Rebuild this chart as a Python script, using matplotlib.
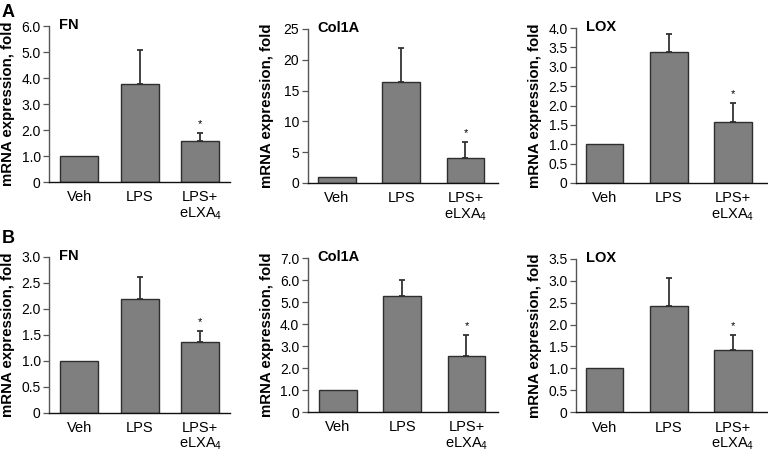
import matplotlib
matplotlib.use("Agg")
import matplotlib.pyplot as plt
import numpy as np

plt.rcParams['font.family'] = ['Liberation Sans', 'DejaVu Sans']
plt.rcParams['mathtext.fontset'] = 'custom'
plt.rcParams['mathtext.rm'] = 'Liberation Sans'

groups = ['Veh', 'LPS', 'LPS+\neLXA$_4$']

# panel A
fn_a = [1.0, 3.77, 1.59]
fn_a_err = [0.0, 1.30, 0.29]
col_a = [1.0, 16.45, 4.07]
col_a_err = [0.0, 5.50, 2.55]
lox_a = [1.0, 3.38, 1.57]
lox_a_err = [0.0, 0.46, 0.50]

# panel B
fn_b = [1.0, 2.20, 1.36]
fn_b_err = [0.0, 0.42, 0.22]
col_b = [1.0, 5.26, 2.55]
col_b_err = [0.0, 0.76, 0.93]
lox_b = [1.02, 2.42, 1.42]
lox_b_err = [0.0, 0.65, 0.35]

W, H = 768, 454
fig = plt.figure(figsize=(W / 100, H / 100), dpi=100)

BAR = '#7f7f7f'
EDGE = '#2e2e2e'


def panel(left, right, top, zero, xlim, width, vals, errs, ymax, step, fmt, title):
    ax = fig.add_axes([left / W, 1 - zero / H, (right - left) / W, (zero - top) / H])
    x = np.arange(len(vals))
    ax.bar(x, vals, width=width, color=BAR, edgecolor=EDGE, linewidth=1.0, zorder=2)
    ax.errorbar(x[1:], vals[1:], yerr=[[0, 0], errs[1:]], fmt='none',
                ecolor='#333333', elinewidth=1.3, capsize=2.5, capthick=1.3, zorder=1)
    ax.annotate('*', (x[2], vals[2] + errs[2]), xytext=(0, 6.5), textcoords='offset points',
                ha='center', va='center', fontsize=8)
    ax.set_xlim(*xlim)
    ax.set_ylim(0, ymax)
    ticks = np.arange(0, ymax + step / 2, step)
    ax.set_yticks(ticks)
    ax.set_yticklabels(['0'] + [fmt.format(t) for t in ticks[1:]], fontsize=10)
    ax.set_xticks(x)
    ax.set_xticklabels(groups, fontsize=10.5, linespacing=1.05)
    ax.tick_params(axis='x', length=0, pad=6)
    ax.tick_params(axis='y', length=4, width=0.9, color='#555555', pad=2)
    for s in ['top', 'right']:
        ax.spines[s].set_visible(False)
    ax.spines['left'].set_color('#555555')
    ax.spines['left'].set_linewidth(1.0)
    ax.spines['bottom'].set_color('#111111')
    ax.spines['bottom'].set_linewidth(1.0)
    ax.set_ylabel('mRNA expression, fold', fontsize=10.8, fontweight='bold')
    ax.yaxis.set_label_coords(-34 / (right - left), 0.5)
    fig.text((left + 10) / W, 1 - (top - 1) / H, title, fontsize=10.5, fontweight='bold',
             ha='left', va='center')
    return ax


# row A
panel(49, 230, 26, 182, (-0.5, 2.49), 0.63, fn_a, fn_a_err, 6.0, 1.0, '{:.1f}', 'FN')
panel(307.7, 498, 29, 183, (-0.456, 2.506), 0.59, col_a, col_a_err, 25, 5, '{:.0f}', 'Col1A')
panel(576, 768, 28, 183, (-0.444, 2.545), 0.59, lox_a, lox_a_err, 4.0, 0.5, '{:.1f}', 'LOX')

# row B
panel(49, 230, 257, 412.7, (-0.5, 2.49), 0.63, fn_b, fn_b_err, 3.0, 0.5, '{:.1f}', 'FN')
panel(307.7, 498, 258, 412, (-0.47, 2.49), 0.59, col_b, col_b_err, 7.0, 1.0, '{:.1f}', 'Col1A')
panel(576, 768, 258.7, 412.3, (-0.444, 2.545), 0.59, lox_b, lox_b_err, 3.5, 0.5, '{:.1f}', 'LOX')

fig.text(2 / W, 1 - 4 / H, 'A', fontsize=13, fontweight='bold', ha='left', va='top')
fig.text(2 / W, 1 - 230 / H, 'B', fontsize=13, fontweight='bold', ha='left', va='top')

fig.savefig('out.png', dpi=100)
